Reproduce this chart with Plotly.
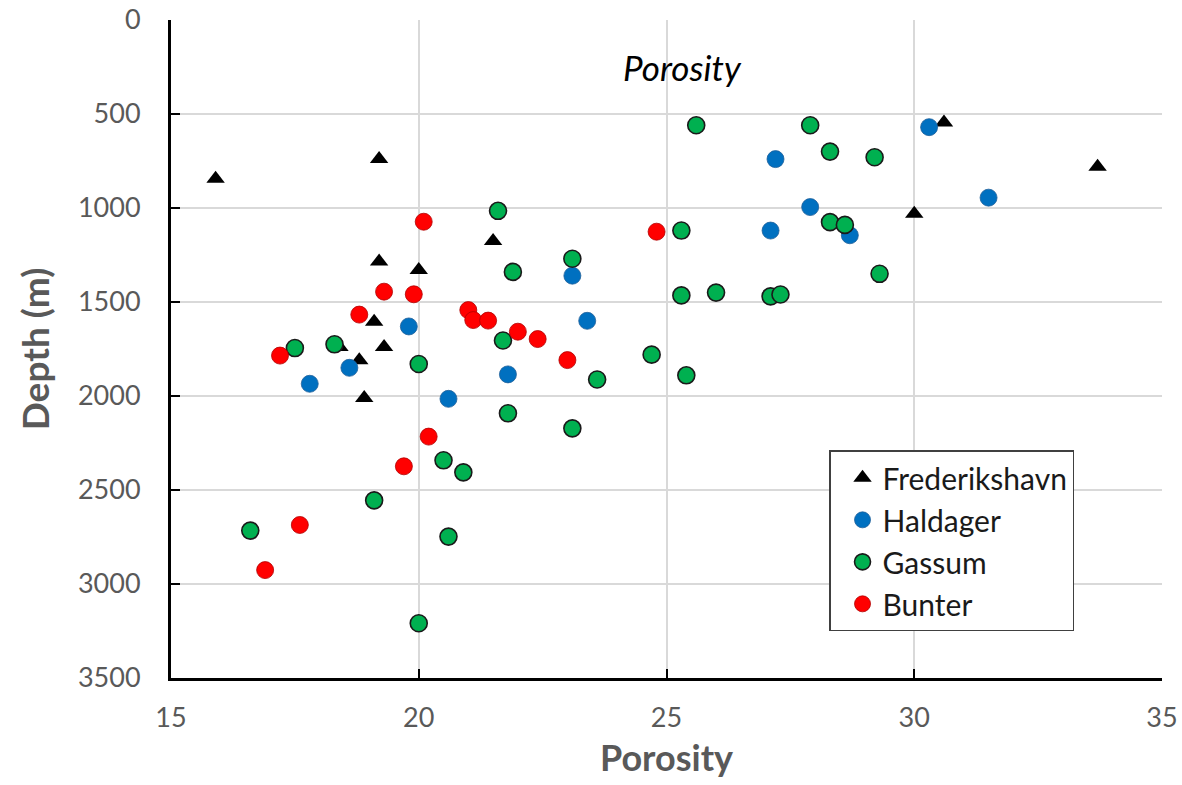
import plotly.graph_objects as go

# Porosity (%) and depth (m) per reservoir formation
frederikshavn_porosity = [15.9, 19.2, 21.5, 19.2, 20.0, 19.1, 19.3, 18.4, 18.8, 18.9, 30.6, 30.0, 33.7]
frederikshavn_depth = [845, 740, 1175, 1285, 1330, 1605, 1740, 1740, 1810, 2010, 545, 1030, 780]

haldager_porosity = [30.3, 27.2, 31.5, 27.9, 27.1, 28.7, 23.1, 23.4, 19.8, 18.6, 17.8, 21.8, 20.6]
haldager_depth = [570, 740, 945, 995, 1120, 1145, 1360, 1600, 1630, 1850, 1935, 1885, 2015]

gassum_porosity = [25.6, 27.9, 28.3, 29.2, 21.6, 28.3, 28.6, 25.3, 23.1, 21.9,
                   29.3, 25.3, 26.0, 27.1, 27.3, 17.5, 18.3, 21.7, 20.0, 24.7,
                   25.4, 23.6, 21.8, 23.1, 20.5, 20.9, 19.1, 16.6, 20.6, 20.0]
gassum_depth = [560, 560, 700, 730, 1015, 1075, 1090, 1120, 1270, 1340,
                1350, 1465, 1450, 1470, 1460, 1745, 1725, 1705, 1830, 1780,
                1890, 1912, 2092, 2172, 2342, 2406, 2555, 2716, 2748, 3209]

bunter_porosity = [20.1, 24.8, 19.3, 19.9, 18.8, 21.0, 21.1, 21.4, 22.0, 22.4,
                   17.2, 23.0, 20.2, 19.7, 17.6, 16.9]
bunter_depth = [1073, 1126, 1445, 1459, 1567, 1543, 1596, 1599, 1658, 1697,
                1785, 1809, 2216, 2374, 2686, 2926]

x_ticks = [15, 20, 25, 30, 35]
y_ticks = [0, 500, 1000, 1500, 2000, 2500, 3000, 3500]

FONT = "Lato, 'Open Sans', sans-serif"
GREY = "#595959"

fig = go.Figure()

fig.add_trace(go.Scatter(
    x=frederikshavn_porosity, y=frederikshavn_depth, mode="markers",
    name="Frederikshavn", legendgroup="f",
    marker=dict(symbol="triangle-up", size=16, color="#000000",
                line=dict(width=0)),
))
fig.add_trace(go.Scatter(
    x=haldager_porosity, y=haldager_depth, mode="markers",
    name="Haldager", legendgroup="h",
    marker=dict(symbol="circle", size=17, color="#0070C0",
                line=dict(width=0.8, color="#1f5f99")),
))
fig.add_trace(go.Scatter(
    x=gassum_porosity, y=gassum_depth, mode="markers",
    name="Gassum", legendgroup="g",
    marker=dict(symbol="circle", size=17, color="#00B050",
                line=dict(width=1.6, color="#1a1a1a")),
))
fig.add_trace(go.Scatter(
    x=bunter_porosity, y=bunter_depth, mode="markers",
    name="Bunter", legendgroup="b",
    marker=dict(symbol="circle", size=17, color="#FF0000",
                line=dict(width=0.8, color="#b00000")),
))

fig.add_annotation(
    text="<i>Porosity</i>", xref="paper", yref="paper",
    x=0.516, y=0.929, xanchor="center", yanchor="middle", showarrow=False,
    font=dict(family=FONT, size=35, color="#000000"),
)

fig.update_layout(
    width=1182, height=785,
    margin=dict(l=171, r=20, t=20, b=107),
    paper_bgcolor="white", plot_bgcolor="white",
    font=dict(family=FONT, size=26, color=GREY),
    showlegend=True,
    legend=dict(
        x=0.664, y=0.346, xanchor="left", yanchor="top",
        bgcolor="white", bordercolor="#404040", borderwidth=1.5,
        font=dict(family=FONT, size=30, color="#1a1a1a"),
        tracegroupgap=0, indentation=12,
    ),
    xaxis=dict(
        range=[15, 35], tickvals=x_ticks, ticktext=[str(v) for v in x_ticks],
        showgrid=True, gridcolor="#d9d9d9", gridwidth=1.5,
        showline=True, linecolor="#000000", linewidth=3,
        ticks="inside", ticklen=9, tickwidth=2, tickcolor="#000000",
        tickfont=dict(family=FONT, size=27, color=GREY),
        ticklabelstandoff=14,
        zeroline=False, automargin=False,
        title=dict(text="<b>Porosity</b>", font=dict(family=FONT, size=36, color=GREY),
                   standoff=14),
    ),
    yaxis=dict(
        range=[3500, 0], tickvals=y_ticks, ticktext=[str(v) for v in y_ticks],
        showgrid=True, gridcolor="#d9d9d9", gridwidth=1.5,
        showline=True, linecolor="#000000", linewidth=3,
        ticks="inside", ticklen=9, tickwidth=2, tickcolor="#000000",
        tickfont=dict(family=FONT, size=27, color=GREY),
        ticklabelstandoff=22,
        zeroline=False, automargin=False,
        title=dict(text="<b>Depth (m)</b>", font=dict(family=FONT, size=37, color=GREY),
                   standoff=18),
    ),
)

fig.write_html("out.html")
